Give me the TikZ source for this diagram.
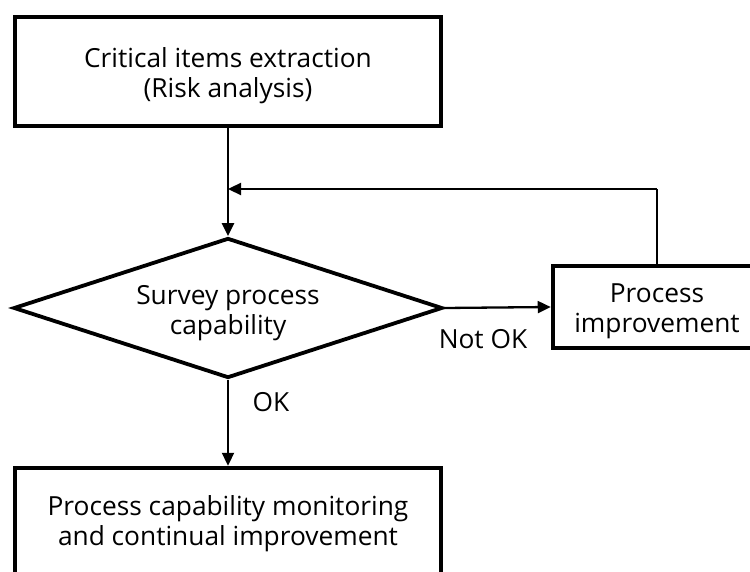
\documentclass[tikz,border=0pt]{standalone}
\usepackage{fontspec}
\setmainfont{Open Sans}
\usetikzlibrary{arrows.meta,shapes.geometric}
\begin{document}
\begin{tikzpicture}[x=1pt,y=-1pt,
  every node/.style={font=\fontsize{26.3}{30}\selectfont, align=center},
  box/.style={draw, line width=4.5pt, inner sep=0pt},
  flow/.style={line width=2.3pt, -{Triangle[length=13pt,width=12pt]}},
  link/.style={line width=2.3pt},
  tag/.style={inner sep=0pt}]
\useasboundingbox (0,0) rectangle (750,572);
\clip (0,0) rectangle (750,572);
% shapes
\node[box, minimum width=426pt, minimum height=109pt] (extract) at (228,71.5) {};
\node[draw, diamond, line width=3.8pt, aspect=3.07, minimum width=429pt, minimum height=140pt, inner sep=0pt] (survey) at (228,308) {};
\node[box, minimum width=208pt, minimum height=82pt] (improve) at (657,307) {};
\node[box, minimum width=426pt, minimum height=106pt] (monitor) at (228,521) {};
% texts inside the shapes
\node[tag] (extracttext) at (228,76) {Critical items extraction\\(Risk analysis)};
\node[tag] (surveytext) at (228,313) {Survey process\\capability};
\node[tag] (improvetext) at (657,311) {Process\\improvement};
\node[tag] (monitortext) at (228,524) {Process capability monitoring\\and continual improvement};
% connectors
\coordinate (turn) at (657,189);
\coordinate (join) at (228,189);
\draw[flow] (extract.south) -- (survey.north);
\draw[link] (improve.north) -- (turn);
\draw[flow] (turn) -- (join);
\draw[flow] (survey.east) -- (improve.west);
\draw[flow] (survey.south) -- (monitor.north);
% branch labels
\node[tag] (notok) at (483,339) {Not OK};
\node[tag] (ok) at (271,402) {OK};
\end{tikzpicture}
\end{document}
